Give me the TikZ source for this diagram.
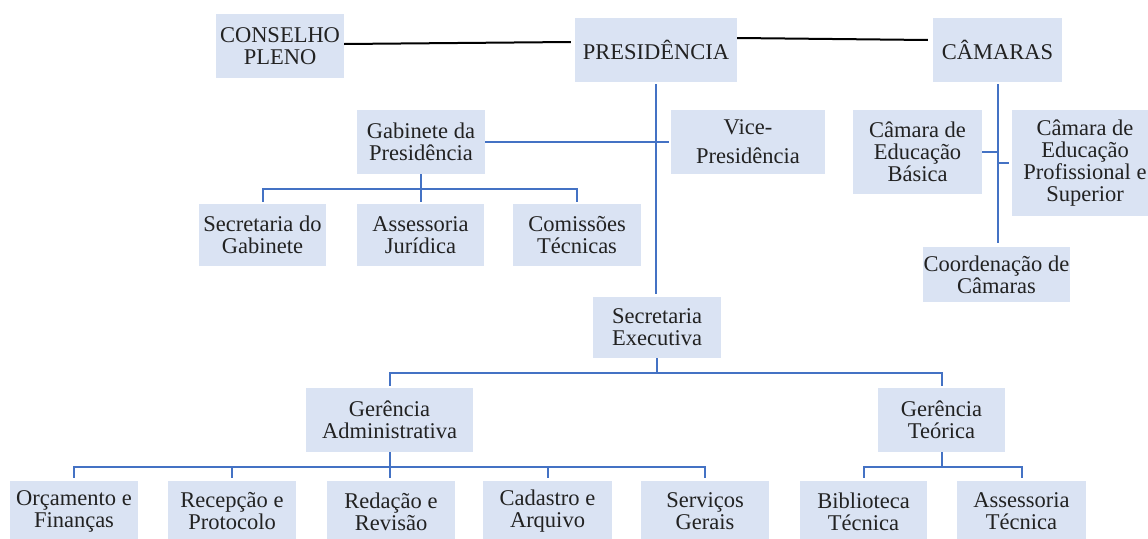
\documentclass[tikz,border=0pt]{standalone}
\usepackage{fontspec}
\setmainfont{Liberation Serif}
\definecolor{boxblue}{HTML}{DAE3F3}
\definecolor{lineblue}{HTML}{4472C4}
\definecolor{txt}{HTML}{222222}
\begin{document}
\begin{tikzpicture}[x=1pt,y=-1pt,
  orgbox/.style={fill=boxblue, draw=none, inner sep=0pt, align=center, text=txt,
    font=\fontsize{22.5}{22}\selectfont},
  bl/.style={draw=lineblue, line width=2pt},
  blk/.style={draw=black, line width=2pt}]
\useasboundingbox (0,0) rectangle (1148,538);
\clip (0,0) rectangle (1148,538);
% top row
\node[orgbox, minimum width=128pt, minimum height=64pt] (cp) at (280,46) {CONSELHO\\PLENO};
\node[orgbox, minimum width=162pt, minimum height=64pt] (pres) at (656,50) {PRESIDÊNCIA};
\node[orgbox, minimum width=129pt, minimum height=64pt] (cam) at (997.5,50) {CÂMARAS};
% second level
\node[orgbox, minimum width=128pt, minimum height=64pt] (gab) at (421,142) {Gabinete da\\Presidência};
\node[orgbox, minimum width=154pt, minimum height=64pt] (vice) at (748,142) {Vice-\\[7pt]Presidência};
\node[orgbox, minimum width=129pt, minimum height=84pt] (cb) at (917.5,152) {Câmara de\\Educação\\Básica};
\node[orgbox, minimum width=146pt, minimum height=106pt] (cpr) at (1085,163) {Câmara de\\Educação\\Profissional e\\Superior};
\node[orgbox, minimum width=147pt, minimum height=55pt] (coord) at (996.5,274.5) {Coordenação de\\Câmaras};
% gabinete children
\node[orgbox, minimum width=127pt, minimum height=62pt] (sg) at (262.5,235) {Secretaria do\\Gabinete};
\node[orgbox, minimum width=127pt, minimum height=62pt] (aj) at (420.5,235) {Assessoria\\Jurídica};
\node[orgbox, minimum width=128pt, minimum height=62pt] (cm) at (577,235) {Comissões\\Técnicas};
% secretaria executiva
\node[orgbox, minimum width=128pt, minimum height=61pt] (se) at (657,327.5) {Secretaria\\Executiva};
\node[orgbox, minimum width=167pt, minimum height=64pt] (ga) at (389.5,420) {Gerência\\Administrativa};
\node[orgbox, minimum width=127pt, minimum height=64pt] (gt) at (941.5,420) {Gerência\\Teórica};
% bottom row
\node[orgbox, minimum width=128pt, minimum height=61pt] (of) at (74,511.5) {Orçamento e\\Finanças};
\node[orgbox, minimum width=128pt, minimum height=61pt] (rp) at (232,511.5) {Recepção e\\Protocolo};
\node[orgbox, minimum width=128pt, minimum height=61pt] (rr) at (391,511.5) {Redação e\\Revisão};
\node[orgbox, minimum width=129pt, minimum height=61pt] (ca) at (547.5,511.5) {Cadastro e\\Arquivo};
\node[orgbox, minimum width=128pt, minimum height=61pt] (sv) at (705,511.5) {Serviços\\Gerais};
\node[orgbox, minimum width=127pt, minimum height=61pt] (bt) at (863.5,511.5) {Biblioteca\\Técnica};
\node[orgbox, minimum width=129pt, minimum height=61pt] (at) at (1021.5,511.5) {Assessoria\\Técnica};
% black connectors
\draw[blk] ([yshift=2pt]cp.east) -- ([xshift=-4pt,yshift=8pt]pres.west);
\draw[blk] ([yshift=12pt]pres.east) -- ([xshift=-5pt,yshift=10pt]cam.west);
% presidencia trunk
\draw[bl] ([yshift=-2pt]pres.south) -- ([yshift=3pt]pres.south |- se.north);
\draw[bl] (gab.east) -- ([xshift=-2pt]vice.west);
% camaras trunk
\draw[bl] ([yshift=-2pt]cam.south) -- ([yshift=4pt]cam.south |- coord.north);
\draw[bl] (cb.east) -- (cb.east -| cam.south);
\draw[bl] ([xshift=-3pt]cpr.west) -- (cpr.west -| cam.south);
% gabinete tree
\coordinate (gbar) at (421,189);
\draw[bl] (gab.south) -- ([yshift=2pt]gab.south |- aj.north);
\draw[bl] ([yshift=2pt]sg.north) |- (gbar) -| ([yshift=2pt]cm.north);
% executiva tree
\coordinate (ebar) at (657,373);
\draw[bl] (se.south) -- (ebar);
\draw[bl] ([yshift=2pt]ga.north) |- (ebar) -| ([yshift=2pt]gt.north);
% administrativa tree
\coordinate (abar) at (389.5,467);
\draw[bl] (ga.south) -- ([yshift=3pt]ga.south |- rr.north);
\draw[bl] ([yshift=3pt]of.north) |- (abar) -| ([yshift=3pt]sv.north);
\draw[bl] ([yshift=3pt]rp.north) -- (rp.north |- abar);
\draw[bl] ([yshift=3pt]ca.north) -- (ca.north |- abar);
% teorica tree
\coordinate (tbar) at (941.5,467);
\draw[bl] (gt.south) -- (tbar);
\draw[bl] ([yshift=3pt]bt.north) |- (tbar) -| ([yshift=3pt]at.north);
\end{tikzpicture}
\end{document}
